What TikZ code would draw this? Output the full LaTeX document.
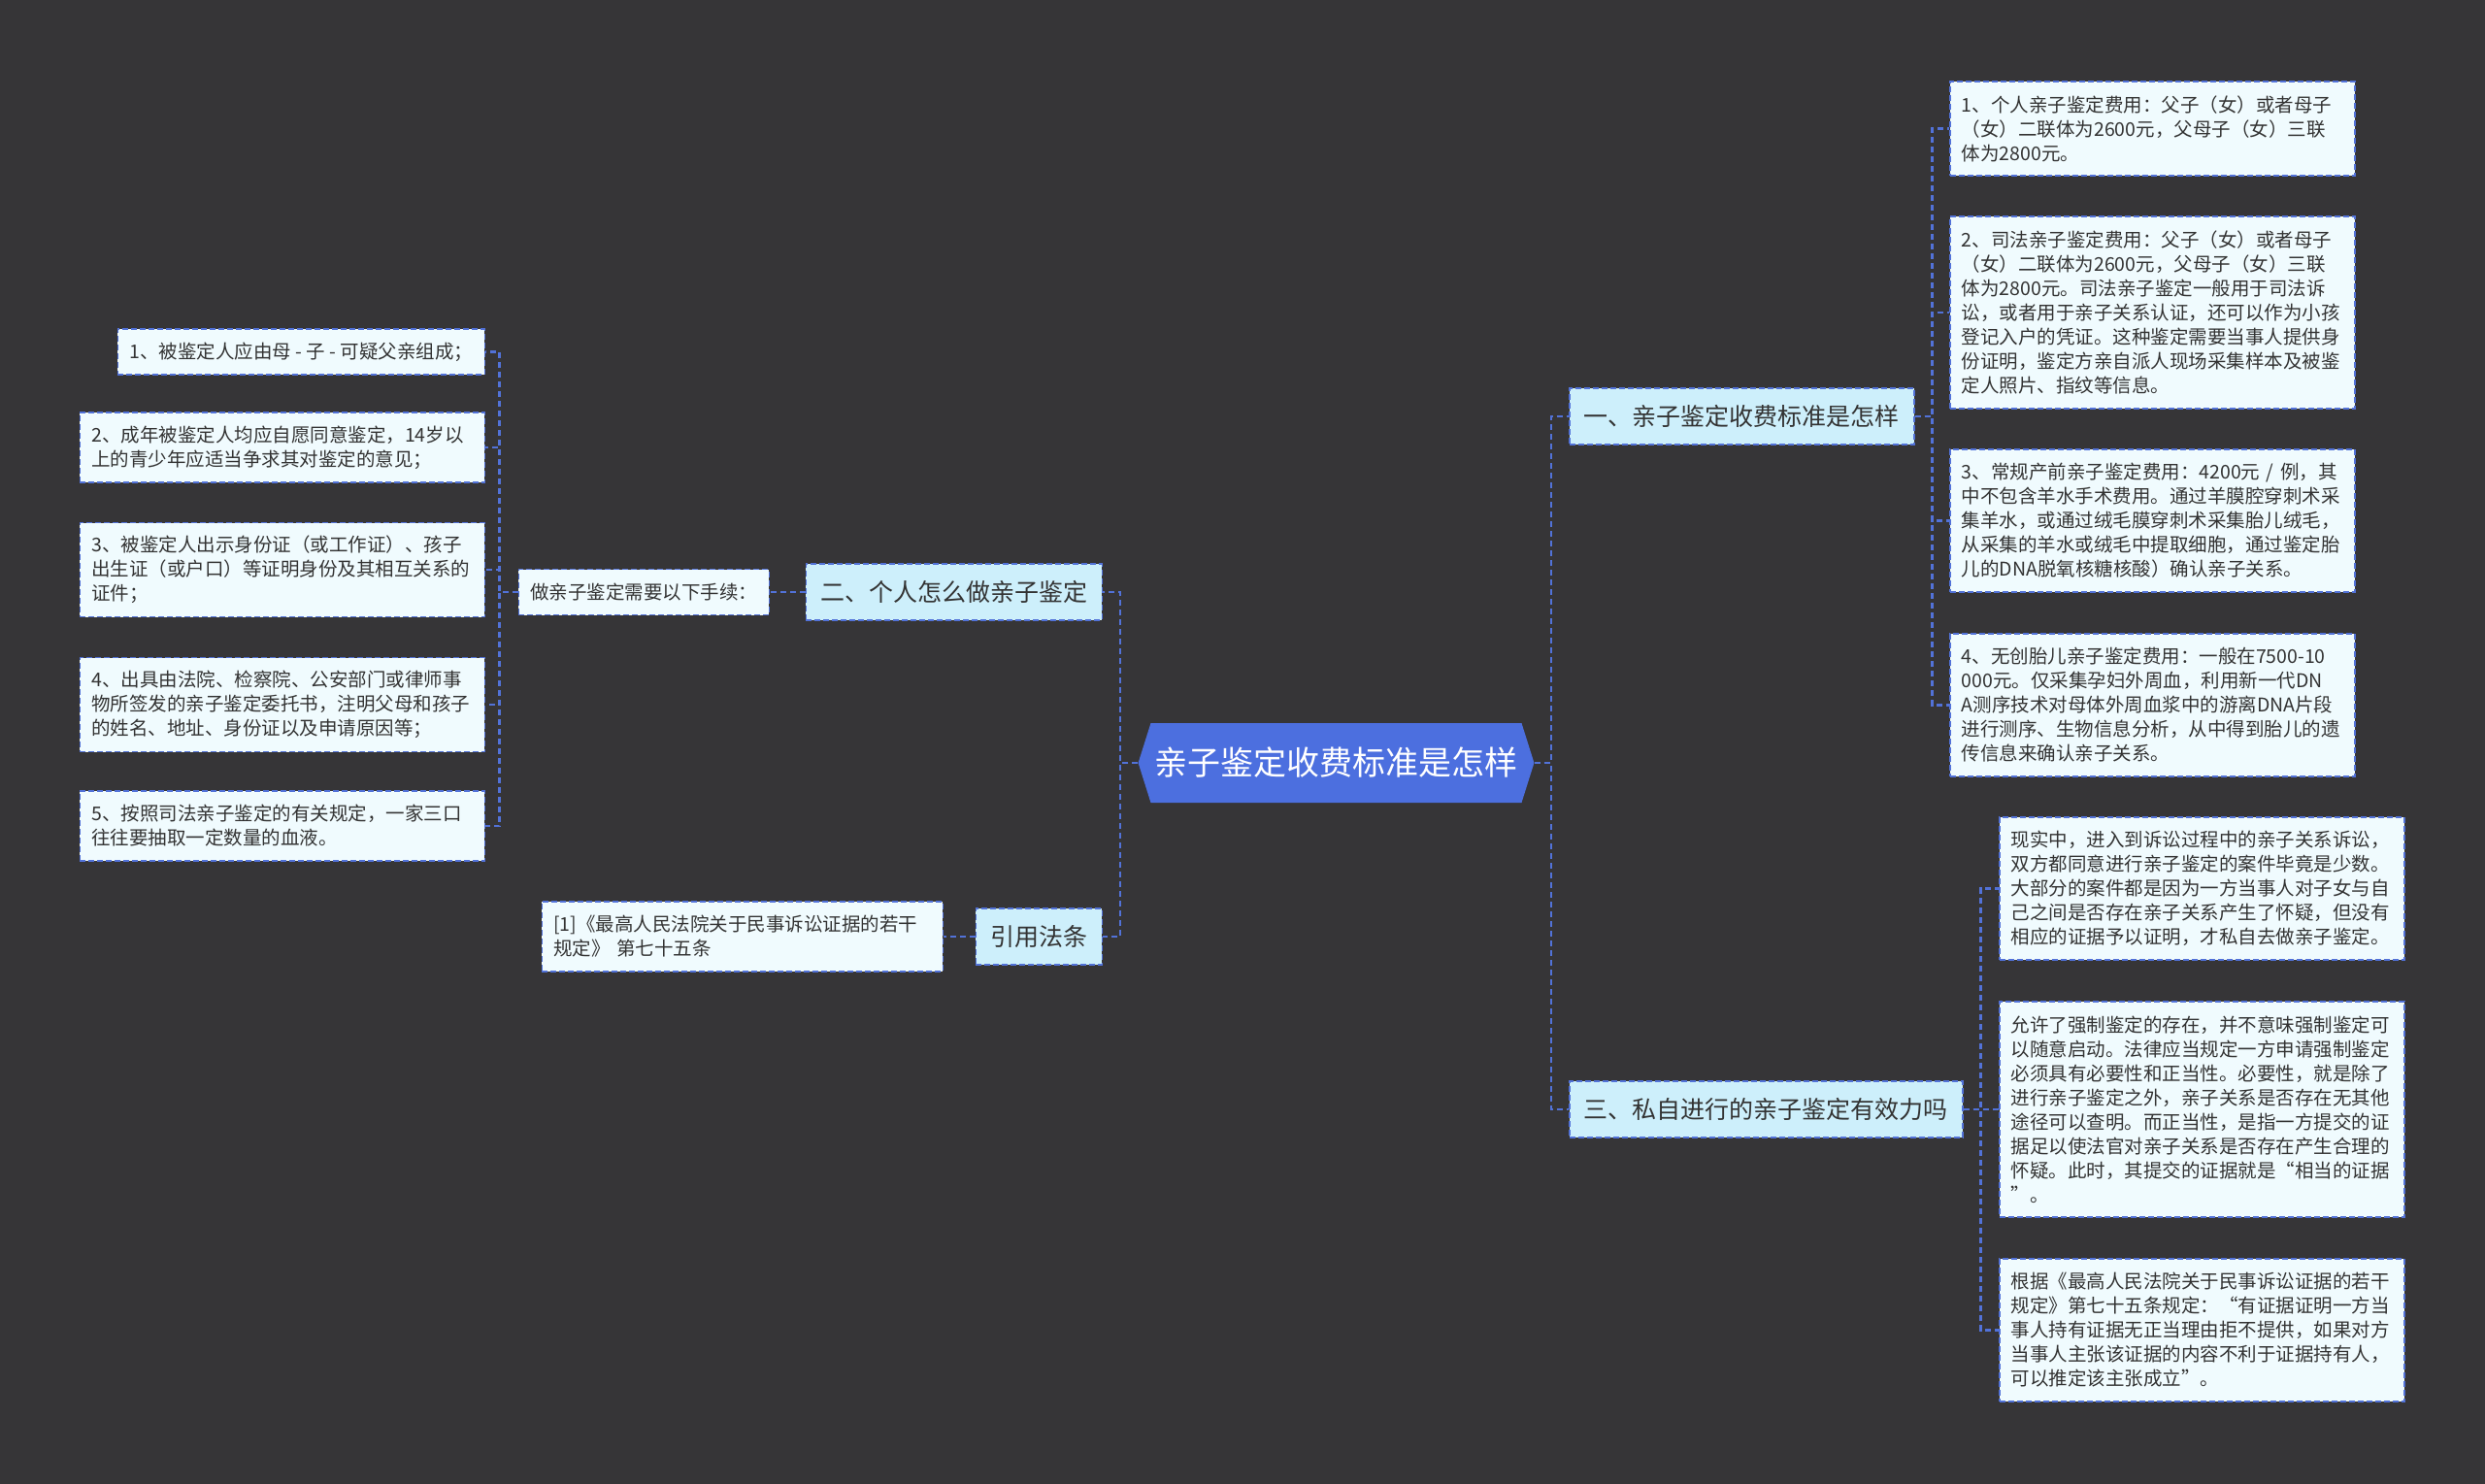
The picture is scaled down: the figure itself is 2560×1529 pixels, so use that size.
\documentclass[tikz,border=0pt]{standalone}
\usepackage{fontspec}
\usepackage{xcolor}
\usepackage{tikz}
\usetikzlibrary{shapes.symbols}
\newfontfamily\cjkfont{Noto Sans CJK SC}
\definecolor{mapbg}{HTML}{363537}
\definecolor{rootblue}{HTML}{4C6FDF}
\definecolor{linkblue}{HTML}{5272D8}
\definecolor{topicfill}{HTML}{CDEFFB}
\definecolor{notefill}{HTML}{F0FBFE}
\definecolor{ink}{HTML}{333333}

\begin{document}
\begin{tikzpicture}[x=1pt, y=-1pt,
  link/.style={draw=linkblue, line width=2.2pt, dash pattern=on 6pt off 4pt},
  rootbox/.style={signal, signal to=west and east, signal pointer angle=145,
    fill=rootblue, text=white, font=\cjkfont\fontsize{34}{40}\selectfont,
    minimum width=383, minimum height=82, inner xsep=4pt},
  topicbox/.style={draw=linkblue, line width=1.5pt, dash pattern=on 6pt off 3pt,
    fill=topicfill, text=ink, font=\cjkfont\fontsize{25}{30}\selectfont,
    minimum height=58, inner xsep=15pt},
  notebox/.style={draw=linkblue, line width=1.5pt, dash pattern=on 6pt off 3pt,
    fill=notefill, text=ink, font=\cjkfont\fontsize{19.5}{25}\selectfont,
    align=left, inner xsep=12pt, inner ysep=6pt},
  notewide/.style={notebox, text width=393pt}]

  % -- page, dark background
  \fill[mapbg] (0,0) rectangle (2560,1529);
  \useasboundingbox (0,0) rectangle (2560,1529);

  % -- centre and the four main topics
  \node[rootbox] (root) at (1376.5,786) {亲子鉴定收费标准是怎样};
  \node[topicbox, anchor=west] (one) at (1616,429) {一、亲子鉴定收费标准是怎样};
  \node[topicbox, anchor=west] (three) at (1616,1143) {三、私自进行的亲子鉴定有效力吗};
  \node[topicbox, anchor=east] (two) at (1136,610) {二、个人怎么做亲子鉴定};
  \node[topicbox, anchor=east] (cite) at (1136,965) {引用法条};

  % -- fees, right of topic one
  \node[notewide, anchor=west, minimum height=97] (a1) at (2008,132.5)
    {1、个人亲子鉴定费用：父子（女）或者母子\\（女）二联体为2600元，父母子（女）三联\\体为2800元。};
  \node[notewide, anchor=west, minimum height=198] (a2) at (2008,322)
    {2、司法亲子鉴定费用：父子（女）或者母子\\（女）二联体为2600元，父母子（女）三联\\体为2800元。司法亲子鉴定一般用于司法诉\\讼，或者用于亲子关系认证，还可以作为小孩\\登记入户的凭证。这种鉴定需要当事人提供身\\份证明，鉴定方亲自派人现场采集样本及被鉴\\定人照片、指纹等信息。};
  \node[notewide, anchor=west, minimum height=147] (a3) at (2008,536.5)
    {3、常规产前亲子鉴定费用：4200元 / 例，其\\中不包含羊水手术费用。通过羊膜腔穿刺术采\\集羊水，或通过绒毛膜穿刺术采集胎儿绒毛，\\从采集的羊水或绒毛中提取细胞，通过鉴定胎\\儿的DNA脱氧核糖核酸）确认亲子关系。};
  \node[notewide, anchor=west, minimum height=147] (a4) at (2008,726.5)
    {4、无创胎儿亲子鉴定费用：一般在7500-10\\000元。仅采集孕妇外周血，利用新一代DN\\A测序技术对母体外周血浆中的游离DNA片段\\进行测序、生物信息分析，从中得到胎儿的遗\\传信息来确认亲子关系。};

  % -- right of topic three
  \node[notewide, anchor=west, minimum height=147] (b1) at (2059,915.5)
    {现实中，进入到诉讼过程中的亲子关系诉讼，\\双方都同意进行亲子鉴定的案件毕竟是少数。\\大部分的案件都是因为一方当事人对子女与自\\己之间是否存在亲子关系产生了怀疑，但没有\\相应的证据予以证明，才私自去做亲子鉴定。};
  \node[notewide, anchor=west, minimum height=222] (b2) at (2059,1143)
    {允许了强制鉴定的存在，并不意味强制鉴定可\\以随意启动。法律应当规定一方申请强制鉴定\\必须具有必要性和正当性。必要性，就是除了\\进行亲子鉴定之外，亲子关系是否存在无其他\\途径可以查明。而正当性，是指一方提交的证\\据足以使法官对亲子关系是否存在产生合理的\\怀疑。此时，其提交的证据就是“相当的证据\\”。};
  \node[notewide, anchor=west, minimum height=147] (b3) at (2059,1370.5)
    {根据《最高人民法院关于民事诉讼证据的若干\\规定》第七十五条规定：“有证据证明一方当\\事人持有证据无正当理由拒不提供，如果对方\\当事人主张该证据的内容不利于证据持有人，\\可以推定该主张成立”。};

  % -- left side: the steps
  \node[notebox, anchor=east, minimum height=47] (steps) at (793,610) {做亲子鉴定需要以下手续：};
  \node[notebox, anchor=east, minimum height=47] (l1) at (500,362.5) {1、被鉴定人应由母 - 子 - 可疑父亲组成；};
  \node[notewide, anchor=east, minimum height=72] (l2) at (500,461)
    {2、成年被鉴定人均应自愿同意鉴定，14岁以\\上的青少年应适当争求其对鉴定的意见；};
  \node[notewide, anchor=east, minimum height=97] (l3) at (500,587)
    {3、被鉴定人出示身份证（或工作证）、孩子\\出生证（或户口）等证明身份及其相互关系的\\证件；};
  \node[notewide, anchor=east, minimum height=97] (l4) at (500,726)
    {4、出具由法院、检察院、公安部门或律师事\\物所签发的亲子鉴定委托书，注明父母和孩子\\的姓名、地址、身份证以及申请原因等；};
  \node[notewide, anchor=east, minimum height=72] (l5) at (500,851)
    {5、按照司法亲子鉴定的有关规定，一家三口\\往往要抽取一定数量的血液。};
  \node[notebox, text width=389pt, anchor=east, minimum height=72] (ref1) at (972,965)
    {[1]《最高人民法院关于民事诉讼证据的若干\\规定》 第七十五条};

  % -- connectors
  \draw[link] (root.east) -- ++(17,0) |- (one.west);
  \draw[link] (root.east) -- ++(17,0) |- (three.west);
  \draw[link] (root.west) -- ++(-18,0) |- (two.east);
  \draw[link] (root.west) -- ++(-18,0) |- (cite.east);
  \foreach \n in {a1,a2,a3,a4}{\draw[link] (one.east) -- ++(18,0) |- (\n.west);}
  \foreach \n in {b1,b2,b3}{\draw[link] (three.east) -- ++(18,0) |- (\n.west);}
  \draw[link] (two.west) -- (steps.east);
  \foreach \n in {l1,l2,l3,l4,l5}{\draw[link] (steps.west) -- ++(-19,0) |- (\n.east);}
  \draw[link] (cite.west) -- (ref1.east);

\end{tikzpicture}
\end{document}
